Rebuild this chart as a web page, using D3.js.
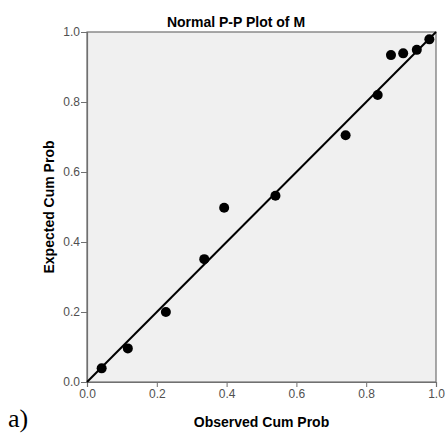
<!DOCTYPE html>
<html>
<head>
<meta charset="utf-8">
<script src="https://cdn.jsdelivr.net/npm/d3@7"></script>
<style>
  body { margin: 0; background: #fff; }
  svg { display: block; }
</style>
</head>
<body>
<svg id="chart" width="446" height="433"></svg>
<script>
// observed vs expected cumulative probabilities
const observed = [0.042, 0.117, 0.226, 0.336, 0.393, 0.540, 0.741, 0.833, 0.871, 0.906, 0.945, 0.981];
const expected = [0.039, 0.096, 0.200, 0.351, 0.498, 0.532, 0.705, 0.820, 0.934, 0.939, 0.949, 0.979];
const ticks = [0, 0.2, 0.4, 0.6, 0.8, 1.0];

const margin = { top: 32, left: 87, right: 10, bottom: 51 };
const width = 446 - margin.left - margin.right;
const height = 433 - margin.top - margin.bottom;

const svg = d3.select('#chart');
const g = svg.append('g').attr('transform', `translate(${margin.left},${margin.top})`);

const x = d3.scaleLinear().domain([0, 1]).range([0, width]);
const y = d3.scaleLinear().domain([0, 1]).range([height, 0]);

g.append('rect')
  .attr('width', width)
  .attr('height', height)
  .attr('fill', '#f0f0f0')
  .attr('stroke', '#707070')
  .attr('stroke-width', 1.2);

const xAxis = g.append('g')
  .attr('transform', `translate(0,${height})`)
  .call(d3.axisBottom(x).tickValues(ticks).tickFormat(d3.format('.1f')).tickSize(5).tickPadding(2));
const yAxis = g.append('g')
  .call(d3.axisLeft(y).tickValues(ticks).tickFormat(d3.format('.1f')).tickSize(6).tickPadding(1));

[xAxis, yAxis].forEach(a => {
  a.select('.domain').attr('stroke', '#707070').attr('stroke-width', 1.2);
  a.selectAll('.tick line').attr('stroke', '#707070');
  a.selectAll('.tick text')
    .attr('fill', '#505050')
    .style('font-family', 'Liberation Sans, Arial, sans-serif')
    .style('font-size', '12px');
});

// reference line
g.append('line')
  .attr('x1', x(0)).attr('y1', y(0))
  .attr('x2', x(1)).attr('y2', y(1))
  .attr('stroke', '#000')
  .attr('stroke-width', 2);

const points = observed.map((o, i) => ({ o, e: expected[i] }));
g.selectAll('circle')
  .data(points)
  .enter()
  .append('circle')
  .attr('cx', d => x(d.o))
  .attr('cy', d => y(d.e))
  .attr('r', 5)
  .attr('fill', '#000');

const bold = 'Liberation Sans, Arial, sans-serif';

svg.append('text')
  .attr('x', 236).attr('y', 27)
  .attr('text-anchor', 'middle')
  .style('font-family', bold).style('font-weight', 'bold').style('font-size', '14px')
  .text('Normal P-P Plot of M');

svg.append('text')
  .attr('x', margin.left + width / 2).attr('y', 427)
  .attr('text-anchor', 'middle')
  .style('font-family', bold).style('font-weight', 'bold').style('font-size', '14px')
  .text('Observed Cum Prob');

svg.append('text')
  .attr('transform', `translate(54,${margin.top + height / 2}) rotate(-90)`)
  .attr('text-anchor', 'middle')
  .style('font-family', bold).style('font-weight', 'bold').style('font-size', '14px')
  .text('Expected Cum Prob');

svg.append('text')
  .attr('x', 8).attr('y', 427)
  .style('font-family', 'Liberation Serif, Times New Roman, serif')
  .style('font-size', '26px')
  .text('a)');
</script>
</body>
</html>
